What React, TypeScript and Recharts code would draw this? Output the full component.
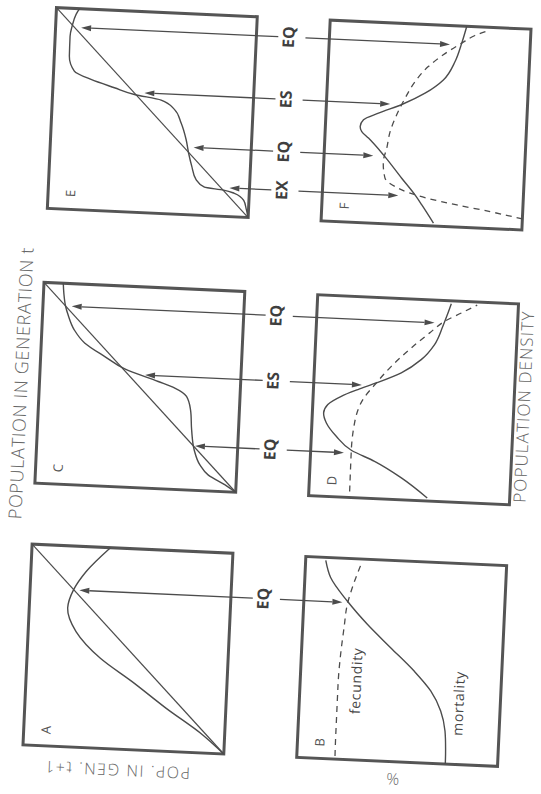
import React from 'react';
import { LineChart, Line, XAxis, YAxis, ReferenceLine, ReferenceArea, ReferenceDot } from 'recharts';

// ---------- data: x = population density (0..100), y = value (0..100) ----------
const diagonal = [{ x: 0, y: 0 }, { x: 100, y: 100 }];

const curveA = [
  { x: 0, y: 0 }, { x: 9, y: 10.9 }, { x: 21.5, y: 29.8 }, { x: 33.9, y: 47.2 }, { x: 44.8, y: 63.5 },
  { x: 57.5, y: 76.2 }, { x: 69, y: 80.9 }, { x: 78.2, y: 78.4 }, { x: 87.5, y: 72.6 }, { x: 100, y: 61 },
];

const mortalityB = [
  { x: 0, y: 26 }, { x: 5, y: 26.1 }, { x: 16.4, y: 26.9 }, { x: 26.3, y: 29.5 }, { x: 36, y: 34.9 },
  { x: 45.5, y: 43.6 }, { x: 56.6, y: 55.8 }, { x: 67.7, y: 67.9 }, { x: 78.8, y: 78.4 }, { x: 90.1, y: 87.2 },
  { x: 98.5, y: 90 },
];
const fecundityB = [
  { x: 1.5, y: 81 }, { x: 10.7, y: 81.1 }, { x: 37.2, y: 81.1 }, { x: 52.2, y: 80.5 }, { x: 65.5, y: 79.4 },
  { x: 77.2, y: 78.3 }, { x: 85.6, y: 76.2 }, { x: 97, y: 72.5 },
];

const curveC = [
  { x: 0, y: 0 }, { x: 3, y: 4.7 }, { x: 8, y: 14.1 }, { x: 12.8, y: 18.4 }, { x: 20.2, y: 21.6 },
  { x: 30, y: 23.3 }, { x: 39.9, y: 24.3 }, { x: 46.5, y: 26.6 }, { x: 50.4, y: 32.6 }, { x: 53.3, y: 41 },
  { x: 58.8, y: 57.9 }, { x: 64.5, y: 68.1 }, { x: 70.7, y: 78.3 }, { x: 77.1, y: 83.9 }, { x: 84.4, y: 87.3 },
  { x: 88.5, y: 88.7 }, { x: 95.1, y: 89.9 }, { x: 100, y: 90.4 },
];

const mortalityD = [
  { x: 1.5, y: 41 }, { x: 10.9, y: 54.3 }, { x: 18.5, y: 68 }, { x: 23.5, y: 79.8 }, { x: 30.1, y: 87.6 },
  { x: 36.5, y: 92.8 }, { x: 41.4, y: 94.4 }, { x: 45.7, y: 92.5 }, { x: 50.1, y: 86 }, { x: 53.8, y: 77.9 },
  { x: 57.5, y: 68.9 }, { x: 63.1, y: 56.7 }, { x: 70.1, y: 47.1 }, { x: 77.9, y: 40.8 }, { x: 87.2, y: 37.1 },
  { x: 93.1, y: 35.1 }, { x: 98.6, y: 33.4 },
];
const fecundityD = [
  { x: 3, y: 79.7 }, { x: 23.5, y: 79.8 }, { x: 37.2, y: 78.8 }, { x: 48.9, y: 75.2 }, { x: 57.5, y: 68.9 },
  { x: 66.1, y: 61.8 }, { x: 75.7, y: 52.3 }, { x: 83.6, y: 43.5 }, { x: 89.7, y: 36.3 }, { x: 94.2, y: 28.2 },
  { x: 98.5, y: 20.5 },
];

const curveE = [
  { x: 0, y: 0 }, { x: 4, y: 1.1 }, { x: 8.4, y: 2.6 }, { x: 11.7, y: 7.4 }, { x: 13.1, y: 12.8 },
  { x: 14.1, y: 22.4 }, { x: 17.8, y: 26.8 }, { x: 24.3, y: 29.2 }, { x: 30.5, y: 31 }, { x: 37.4, y: 32.6 },
  { x: 45.6, y: 35.5 }, { x: 52.1, y: 39.1 }, { x: 56.4, y: 45.9 }, { x: 58.6, y: 59.3 }, { x: 61.5, y: 69.4 },
  { x: 65.1, y: 81.2 }, { x: 68.9, y: 89.7 }, { x: 76.2, y: 92.5 }, { x: 86.1, y: 92.6 }, { x: 91.2, y: 91.8 },
  { x: 97.1, y: 90.1 }, { x: 100, y: 88.5 },
];

const mortalityF = [
  { x: 1.4, y: 44.1 }, { x: 10.2, y: 50.3 }, { x: 15, y: 53.9 }, { x: 23, y: 60.9 }, { x: 34.2, y: 70.5 },
  { x: 42.2, y: 78.3 }, { x: 45.3, y: 81.8 }, { x: 47.8, y: 82.7 }, { x: 51.2, y: 81.2 }, { x: 54.8, y: 73.9 },
  { x: 59.8, y: 62.2 }, { x: 65.8, y: 51.2 }, { x: 72.8, y: 42.4 }, { x: 82.2, y: 37 }, { x: 91.5, y: 34.1 },
  { x: 99.9, y: 32 },
];
const fecundityF = [
  { x: 5.5, y: 0 }, { x: 8.4, y: 16.2 }, { x: 11, y: 32.9 }, { x: 13.7, y: 48 }, { x: 15.8, y: 56.4 },
  { x: 18.7, y: 64 }, { x: 22.7, y: 69.2 }, { x: 30.9, y: 70.4 }, { x: 37.6, y: 69 }, { x: 45.9, y: 67.7 },
  { x: 54.4, y: 64.8 }, { x: 62.9, y: 61 }, { x: 71.4, y: 56.4 }, { x: 79.1, y: 50.2 }, { x: 85.3, y: 43 },
  { x: 91.5, y: 34.1 }, { x: 95.6, y: 27.7 }, { x: 98.7, y: 20.3 },
];

// equilibria: label, density, arrow tip in upper panel, arrow tip in lower panel
const eqAB = [{ label: 'EQ', x: 78.1, top: 75.5, bottom: 80.8 }];
const eqCD = [
  { label: 'EQ', x: 22.1, top: 21.3, bottom: 83.4 },
  { label: 'ES', x: 56.2, top: 47.7, bottom: 76.0 },
  { label: 'EQ', x: 88.7, top: 85.7, bottom: 41.3 },
];
const eqEF = [
  { label: 'EX', x: 14.3, top: 10, bottom: 62.2 },
  { label: 'EQ', x: 33.6, top: 28.7, bottom: 75.5 },
  { label: 'ES', x: 59.6, top: 54.4, bottom: 68.3 },
  { label: 'EQ', x: 90.6, top: 87.3, bottom: 39.9 },
];

const panelLetters = ['A', 'B', 'C', 'D', 'E', 'F'];
const curveLabels = ['fecundity', 'mortality'];
const axisTitles = ['POPULATION IN GENERATION t', 'POPULATION DENSITY', 'POP. IN GEN. t+1', '%'];

// ---------- styling / layout ----------
const SIZE = 201;
const INK = '#4c4c4c';
const FRAME = '#555555';
const FONT = '"Open Sans", "DejaVu Sans", sans-serif';
const TOP_ARROW_END = -10.9;
const LABEL_V = -18.9;
const BOTTOM_ARROW_START = 111.9;

type Pt = { x: number; y: number };
type Eq = { label: string; x: number; top: number; bottom: number };

const ArrowShape = (props: any) => {
  const { x1, y1, x2, y2 } = props;
  const dx = x2 - x1;
  const dy = y2 - y1;
  const len = Math.hypot(dx, dy) || 1;
  const ux = dx / len;
  const uy = dy / len;
  const L = 10;
  const W = 3;
  const bx = x2 - ux * L;
  const by = y2 - uy * L;
  return (
    <g>
      <line x1={x1} y1={y1} x2={bx} y2={by} stroke={INK} strokeWidth={1.3} />
      <polygon points={`${x2},${y2} ${bx - uy * W},${by + ux * W} ${bx + uy * W},${by - ux * W}`} fill={INK} />
    </g>
  );
};

const textShape = (text: string, style: any) => (props: any) => (
  <text x={props.cx} y={props.cy} {...style}>{text}</text>
);

function Panel(props: {
  left: number; top: number; upper: boolean; letter: string;
  diag?: boolean; solid: Pt[]; dashed?: Pt[]; eqs: Eq[];
  notes?: { text: string; x: number; y: number; len: number }[];
}) {
  const { left, top, upper, letter, diag, solid, dashed, eqs, notes } = props;
  const margin = upper ? { top: 4, right: 4, bottom: 46, left: 4 } : { top: 46, right: 4, bottom: 4, left: 4 };
  return (
    <div style={{ position: 'absolute', left: left - margin.left, top: top - margin.top }}>
      <LineChart width={SIZE + margin.left + margin.right} height={SIZE + margin.top + margin.bottom} margin={margin}>
        <XAxis type="number" dataKey="x" domain={[0, 100]} hide />
        <YAxis type="number" dataKey="y" domain={[0, 100]} hide />
        {diag && (
          <Line data={diagonal} dataKey="y" type="linear" stroke={INK} strokeWidth={1.2} dot={false} activeDot={false} isAnimationActive={false} />
        )}
        {dashed && (
          <Line data={dashed} dataKey="y" type="monotone" stroke={INK} strokeWidth={1.3} strokeDasharray="6 5" dot={false} activeDot={false} isAnimationActive={false} />
        )}
        <Line data={solid} dataKey="y" type="monotone" stroke={INK} strokeWidth={1.4} dot={false} activeDot={false} isAnimationActive={false} />
        <ReferenceArea x1={0} x2={100} y1={0} y2={100} fill="none" fillOpacity={0} stroke={FRAME} strokeWidth={3} ifOverflow="visible" />
        {eqs.map((e, i) => (
          <ReferenceLine
            key={'a' + i}
            segment={upper ? [{ x: e.x, y: TOP_ARROW_END }, { x: e.x, y: e.top }] : [{ x: e.x, y: BOTTOM_ARROW_START }, { x: e.x, y: e.bottom }]}
            ifOverflow="visible"
            shape={ArrowShape}
          />
        ))}
        {upper && eqs.map((e, i) => (
          <ReferenceDot
            key={'l' + i}
            x={e.x}
            y={LABEL_V}
            r={0}
            ifOverflow="visible"
            shape={textShape(e.label, { textAnchor: 'middle', fontSize: 16, fontWeight: 700, fill: '#3f3f3f', fontFamily: FONT })}
          />
        ))}
        <ReferenceDot
          x={8}
          y={89}
          r={0}
          ifOverflow="visible"
          shape={textShape(letter, { textAnchor: 'middle', dominantBaseline: 'central', fontSize: 13, fontWeight: 400, fill: '#555', fontFamily: FONT })}
        />
        {notes && notes.map((n, i) => (
          <ReferenceDot
            key={'n' + i}
            x={n.x}
            y={n.y}
            r={0}
            ifOverflow="visible"
            shape={textShape(n.text, { textAnchor: 'middle', dominantBaseline: 'central', fontSize: 14, fill: '#474747', fontFamily: FONT, textLength: n.len, lengthAdjust: 'spacing' })}
          />
        ))}
      </LineChart>
    </div>
  );
}

const COL = [66.6, 329.4, 603.7];
const ROW = [40, 314];

export default function App() {
  const titleStyle = { fontFamily: FONT, fontWeight: 300, fill: '#666' } as any;
  return (
    <div style={{ position: 'absolute', left: 0, top: 0, width: 541, height: 794, overflow: 'hidden', background: '#fff' }}>
      <div style={{ position: 'absolute', left: -20, top: 810, width: 830, height: 560, transformOrigin: '0 0', transform: 'rotate(-87.4deg)' }}>
        <svg width={830} height={560} style={{ position: 'absolute', left: 0, top: 0 }}>
          <text x={428} y={28} textAnchor="middle" fontSize={18} textLength={272} lengthAdjust="spacing" {...titleStyle}>{axisTitles[0]}</text>
          <text x={427} y={531} textAnchor="middle" fontSize={17} textLength={191} lengthAdjust="spacing" {...titleStyle}>{axisTitles[1]}</text>
          <text x={52} y={135.5} textAnchor="middle" fontSize={16} textLength={145} lengthAdjust="spacing" transform="rotate(-90 52 135.5)" {...titleStyle}>{axisTitles[2]}</text>
          <text x={55.5} y={411} textAnchor="middle" fontSize={16} transform="rotate(-90 55.5 411)" {...titleStyle}>{axisTitles[3]}</text>
        </svg>
        <Panel left={COL[0]} top={ROW[0]} upper letter={panelLetters[0]} diag solid={curveA} eqs={eqAB} />
        <Panel left={COL[0]} top={ROW[1]} upper={false} letter={panelLetters[1]} solid={mortalityB} dashed={fecundityB} eqs={eqAB}
          notes={[{ text: curveLabels[0], x: 39.2, y: 72.4, len: 66 }, { text: curveLabels[1], x: 30.3, y: 21, len: 64 }]} />
        <Panel left={COL[1]} top={ROW[0]} upper letter={panelLetters[2]} diag solid={curveC} eqs={eqCD} />
        <Panel left={COL[1]} top={ROW[1]} upper={false} letter={panelLetters[3]} solid={mortalityD} dashed={fecundityD} eqs={eqCD} />
        <Panel left={COL[2]} top={ROW[0]} upper letter={panelLetters[4]} diag solid={curveE} eqs={eqEF} />
        <Panel left={COL[2]} top={ROW[1]} upper={false} letter={panelLetters[5]} solid={mortalityF} dashed={fecundityF} eqs={eqEF} />
      </div>
    </div>
  );
}
